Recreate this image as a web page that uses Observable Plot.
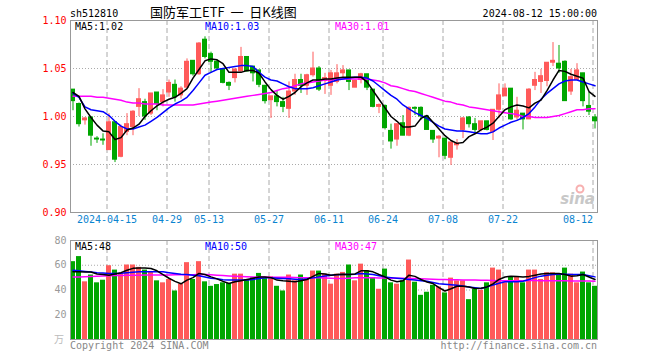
<!DOCTYPE html>
<html><head><meta charset="utf-8">
<script src="https://cdn.jsdelivr.net/npm/d3@7"></script>
<script src="https://cdn.jsdelivr.net/npm/@observablehq/plot@0.6"></script>
<style>
body{margin:0;background:#fff;}
#wrap{position:relative;width:660px;height:360px;overflow:hidden;}
#wrap svg{position:absolute;left:0;}
</style></head><body><div id="wrap"></div>
<script>
// ---- data ----
const open  = [1.028,1.013,0.996,0.999,0.977,0.976,0.965,0.994,0.958,0.984,0.989,1.010,1.015,1.003,1.025,1.015,1.025,1.033,1.022,1.030,1.058,1.044,1.080,1.065,1.057,1.049,1.035,1.040,1.047,1.062,1.052,1.048,1.032,1.017,1.021,1.015,1.008,1.026,1.038,1.032,1.043,1.050,1.037,1.032,1.036,1.045,1.048,1.030,1.038,1.044,1.028,1.010,1.011,0.985,0.976,0.993,0.980,1.009,1.009,1.000,0.985,0.977,0.977,0.957,0.970,0.986,0.999,0.992,0.986,0.995,0.984,1.007,1.021,1.029,0.999,1.003,0.997,1.032,1.036,1.037,1.056,1.055,1.057,1.026,1.038,1.045,1.011,0.999];
const high  = [1.028,1.014,0.999,0.999,0.979,0.982,1.003,0.994,0.991,1.003,1.006,1.029,1.018,1.024,1.025,1.028,1.038,1.038,1.031,1.060,1.058,1.077,1.083,1.067,1.059,1.050,1.036,1.049,1.072,1.062,1.052,1.048,1.032,1.021,1.027,1.020,1.036,1.044,1.044,1.044,1.067,1.052,1.045,1.048,1.054,1.053,1.048,1.038,1.045,1.044,1.028,1.013,1.012,0.992,0.992,1.001,1.010,1.010,1.010,1.000,0.985,0.980,0.977,0.973,0.976,0.999,1.000,0.998,0.995,0.995,1.007,1.034,1.034,1.029,1.020,1.003,1.029,1.046,1.049,1.056,1.077,1.074,1.058,1.049,1.055,1.045,1.025,1.002];
const low   = [1.006,0.989,0.991,0.969,0.972,0.970,0.965,0.952,0.957,0.980,0.980,1.000,0.996,1.001,1.006,1.010,1.020,1.015,1.018,1.029,1.042,1.043,1.060,1.045,1.048,1.034,1.027,1.035,1.046,1.046,1.036,1.030,1.013,0.998,1.010,1.004,0.998,1.022,1.024,1.022,1.041,1.026,1.023,1.022,1.034,1.039,1.027,1.030,1.034,1.027,1.009,1.003,0.986,0.966,0.969,0.980,0.979,1.001,0.996,0.986,0.972,0.957,0.955,0.949,0.965,0.977,0.988,0.982,0.984,0.985,0.975,0.998,1.021,0.996,0.996,0.986,0.997,1.027,1.024,1.031,1.052,1.045,1.016,1.022,1.038,1.010,1.001,0.987];
const close = [1.016,0.992,0.998,0.980,0.976,0.975,0.994,0.955,0.989,0.992,1.005,1.018,1.000,1.024,1.013,1.022,1.035,1.020,1.029,1.057,1.044,1.076,1.062,1.057,1.050,1.035,1.032,1.049,1.062,1.047,1.045,1.033,1.016,1.021,1.015,1.010,1.026,1.038,1.032,1.043,1.050,1.028,1.040,1.045,1.045,1.048,1.036,1.037,1.044,1.030,1.010,1.012,0.988,0.974,0.992,0.980,1.009,1.008,1.000,0.986,0.976,0.979,0.959,0.973,0.972,0.998,0.992,0.986,0.995,0.986,1.007,1.022,1.029,0.997,1.006,0.997,1.028,1.038,1.042,1.056,1.058,1.050,1.016,1.041,1.048,1.016,1.005,0.995];
const ma5   = [1.025,1.021,1.008,0.999,0.991,0.985,0.984,0.976,0.978,0.986,0.988,0.992,1.000,1.006,1.011,1.015,1.018,1.020,1.024,1.029,1.040,1.049,1.058,1.060,1.059,1.055,1.046,1.046,1.046,1.048,1.048,1.045,1.036,1.028,1.022,1.018,1.021,1.025,1.031,1.035,1.038,1.038,1.039,1.039,1.040,1.041,1.041,1.041,1.041,1.036,1.027,1.018,1.009,1.000,0.995,0.989,0.989,0.990,0.998,1.001,0.994,0.987,0.980,0.975,0.972,0.973,0.979,0.982,0.986,0.989,0.993,1.000,1.007,1.010,1.012,1.011,1.009,1.014,1.017,1.027,1.038,1.048,1.047,1.044,1.042,1.040,1.026,1.021];
const ma10  = [1.024,1.020,1.010,1.007,1.006,1.005,1.001,0.995,0.990,0.987,0.987,0.989,0.991,0.995,0.999,1.004,1.009,1.013,1.016,1.020,1.027,1.035,1.043,1.046,1.049,1.050,1.051,1.052,1.053,1.053,1.052,1.046,1.041,1.038,1.037,1.034,1.031,1.029,1.029,1.029,1.030,1.032,1.034,1.036,1.038,1.039,1.040,1.041,1.041,1.040,1.037,1.032,1.027,1.022,1.018,1.012,1.008,1.004,1.001,0.998,0.994,0.990,0.987,0.986,0.985,0.985,0.984,0.983,0.982,0.982,0.984,0.988,0.991,0.994,0.996,0.999,1.003,1.010,1.018,1.024,1.029,1.034,1.037,1.038,1.038,1.036,1.034,1.032];
const ma30  = [1.021,1.021,1.021,1.021,1.020,1.020,1.019,1.018,1.017,1.015,1.014,1.014,1.013,1.013,1.013,1.012,1.012,1.012,1.012,1.012,1.012,1.013,1.014,1.015,1.016,1.017,1.018,1.019,1.020,1.021,1.022,1.023,1.024,1.025,1.027,1.029,1.030,1.032,1.034,1.035,1.036,1.037,1.038,1.038,1.039,1.039,1.039,1.039,1.039,1.039,1.038,1.037,1.035,1.032,1.031,1.029,1.027,1.026,1.024,1.022,1.020,1.018,1.016,1.015,1.013,1.012,1.010,1.009,1.008,1.007,1.006,1.005,1.004,1.003,1.002,1.000,1.000,0.999,0.999,0.999,1.000,1.001,1.003,1.005,1.007,1.007,1.008,1.008];
const volume = [62.9,67.0,46.6,52.1,45.8,47.9,59.6,56.1,53.4,60.2,60.2,58.3,56.1,54.7,47.4,45.8,48.5,39.2,44.7,62.1,48.5,62.9,46.6,43.0,44.4,45.8,45.2,52.8,52.8,48.5,50.1,53.4,49.2,50.6,43.0,39.2,52.1,47.4,52.1,48.5,55.3,55.3,52.8,44.7,52.8,54.2,60.2,47.4,60.9,55.5,50.1,40.6,56.9,45.8,44.7,47.4,64.2,46.3,35.7,38.2,43.8,42.5,37.6,49.6,47.4,47.4,32.2,40.6,39.8,45.8,57.7,56.1,45.8,50.1,50.1,45.8,56.1,56.1,48.5,53.9,53.9,52.8,57.7,52.8,45.8,54.5,45.8,43.0];
const vma5  = [54.7,54.7,54.5,54.5,53.0,52.5,52.0,53.0,54.0,56.0,57.5,57.8,57.8,57.4,55.5,52.5,49.5,47.0,45.0,48.0,50.0,53.4,52.5,50.6,49.0,47.0,45.2,46.6,47.5,48.5,49.5,50.5,50.5,50.0,48.0,47.4,47.0,46.6,47.5,48.5,51.0,53.4,53.0,52.0,52.5,52.8,52.5,53.0,55.5,55.5,54.7,52.5,50.6,48.0,46.6,47.4,52.0,51.0,48.5,46.5,45.2,42.0,39.2,41.0,43.0,43.0,42.5,41.2,41.5,42.5,45.0,48.5,50.5,51.2,51.0,50.6,51.0,52.0,53.0,53.4,53.4,53.4,52.5,51.2,51.5,52.5,50.5,48.5];
const vma10 = [56.0,55.5,55.0,54.5,54.0,53.7,53.4,53.4,53.6,54.0,54.3,54.7,54.7,54.7,54.7,54.7,54.0,53.4,52.8,52.5,52.0,51.5,50.5,49.5,49.0,48.3,48.0,48.0,48.0,48.0,48.5,49.3,49.8,49.8,49.5,49.3,49.0,48.7,48.5,49.0,49.8,50.6,51.3,52.0,52.3,52.5,52.5,52.8,53.4,53.0,52.5,51.5,50.6,50.0,49.5,49.0,48.5,48.0,47.5,47.0,46.0,45.0,44.7,44.2,43.8,43.3,42.5,41.8,41.2,42.5,44.0,45.5,46.6,46.6,46.6,47.0,48.5,50.0,51.2,52.0,52.5,52.8,52.8,52.5,52.5,52.5,51.5,50.6];
const vma30 = [50.6,50.6,50.8,51.0,51.1,51.3,51.5,51.7,51.8,52.0,52.0,52.0,52.1,52.1,52.2,52.2,52.2,52.3,52.3,52.3,52.3,52.5,52.5,52.3,52.0,51.7,51.4,51.2,51.0,50.8,50.6,50.5,50.5,50.4,50.4,50.3,50.3,50.2,50.0,50.0,50.0,49.8,49.7,49.5,49.3,49.3,49.5,49.8,49.8,49.8,49.8,49.7,49.6,49.5,49.5,49.4,49.3,49.2,49.0,48.9,48.7,48.5,48.4,48.3,48.2,48.1,48.0,48.0,47.9,47.8,47.7,47.5,47.4,47.4,47.4,47.5,47.6,47.6,47.5,47.4,47.4,47.4,47.4,47.3,47.3,47.2,47.2,47.1];
const tickIdx    = [6,16,23,33,43,52,62,72,87];
const tickLabels = ["2024-04-15","04-29","05-13","05-27","06-11","06-24","07-08","07-22","08-12"];
const priceTicks = [0.90,0.95,1.00,1.05,1.10];
const volTicks   = [20,40,60,80];
const legendPrice = ["MA5:1.02","MA10:1.03","MA30:1.01"];
const legendVol   = ["MA5:48","MA10:50","MA30:47"];

// ---- styling ----
const RED = "#ff5a5a", GREEN = "#00a600";
const MONO = "'DejaVu Sans Mono', monospace";
const CJK = "'Noto Sans CJK SC', sans-serif";
const N = close.length;
const idx = d3.range(N);
const col = i => close[i] > open[i] ? RED : GREEN;
const xDom = [-5/12, N - 1 + 5/12];
const wrap = document.getElementById("wrap");
const common = {
  width: 660, marginLeft: 70, marginRight: 63,
  x: {domain: xDom, axis: null},
  color: {type: "identity"},
  style: {fontFamily: MONO, fontSize: "10px", background: "transparent", overflow: "visible"}
};
const vgrid = Plot.ruleX(tickIdx, {x: d => d - 1/3, stroke: "#aaa", strokeDasharray: "5,3"});

const price = Plot.plot({
  ...common, height: 232, marginTop: 20, marginBottom: 20,
  y: {domain: [0.9, 1.1], axis: null},
  marks: [
    Plot.ruleY([0.95, 1.0, 1.05], {stroke: "#aaa", strokeDasharray: "1,2"}),
    vgrid,
    Plot.axisY({ticks: priceTicks, tickFormat: d3.format(".2f"), tickSize: 0, tickPadding: 4, fill: "red", fontSize: 10}),
    Plot.text(tickIdx.slice(0, -1), {x: d => d - 1/3, text: (d, k) => tickLabels[k], frameAnchor: "bottom", dy: 10, fill: "#0a84d0", fontSize: 10}),
    Plot.text(tickIdx.slice(-1), {x: d => d - 1/3, text: () => tickLabels[tickLabels.length - 1], frameAnchor: "bottom", dy: 10, textAnchor: "end", fill: "#0a84d0", fontSize: 10}),
    Plot.ruleX(idx, {x: i => i, y1: i => low[i], y2: i => high[i], stroke: col}),
    Plot.rect(idx, {x1: i => i - 5/12, x2: i => i + 5/12, y1: i => open[i], y2: i => close[i], fill: col, insetTop: -0.5, insetBottom: -0.5}),
    Plot.line(idx, {x: i => i, y: i => ma30[i], stroke: "#ff00ff"}),
    Plot.line(idx, {x: i => i, y: i => ma10[i], stroke: "#0000ff"}),
    Plot.line(idx, {x: i => i, y: i => ma5[i], stroke: "#000"}),
    Plot.frame({stroke: "#999"})
  ]
});
price.style.top = "0px";
wrap.appendChild(price);

const vol = Plot.plot({
  ...common, height: 128, marginTop: 8, marginBottom: 21,
  y: {domain: [0, 80], axis: null},
  marks: [
    Plot.ruleY([20, 40, 60], {stroke: "#aaa", strokeDasharray: "1,2"}),
    vgrid,
    Plot.axisY({ticks: volTicks, tickSize: 0, tickPadding: 4, fill: "#999", fontSize: 10}),
    Plot.rectY(idx, {x1: i => i - 5/12, x2: i => i + 5/12, y: i => volume[i], fill: col}),
    Plot.line(idx, {x: i => i, y: i => vma30[i], stroke: "#ff00ff"}),
    Plot.line(idx, {x: i => i, y: i => vma10[i], stroke: "#0000ff"}),
    Plot.line(idx, {x: i => i, y: i => vma5[i], stroke: "#000"}),
    Plot.frame({stroke: "#999"})
  ]
});
vol.style.top = "232px";
wrap.appendChild(vol);

// ---- text overlay ----
const ov = d3.select(wrap).append("svg").attr("width", 660).attr("height", 360).style("top", "0px")
  .style("font-family", MONO).style("font-size", "10px");
const t = (x, y, s, fill, anchor) => ov.append("text").attr("x", x).attr("y", y).attr("fill", fill)
  .attr("text-anchor", anchor || "start").style("white-space", "pre").text(s);
t(70, 17, "sh512810", "#000");
t(150, 16.5, "国防军工ETF  一  日K线图", "#000").style("font-family", CJK).style("font-size", "13px");
t(597, 17, "2024-08-12 15:00:00", "#000", "end");
const legX = [75, 205, 335], legC = ["#000", "#0000ff", "#ff00ff"];
legendPrice.forEach((s, k) => t(legX[k], 29.5, s, legC[k]));
legendVol.forEach((s, k) => t(legX[k], 250, s, legC[k]));
t(70, 349, "Copyright 2024 SINA.COM", "#888");
t(597, 349, "http://finance.sina.com.cn", "#888", "end");
t(64, 343, "万", "#bbb", "end").style("font-family", CJK);
t(595, 204, "sina", "#c8c8c8", "end").style("font-family", "'DejaVu Sans', sans-serif").style("font-size", "15px").style("font-style", "italic").style("font-weight", "bold");
ov.append("circle").attr("cx", 580).attr("cy", 189).attr("r", 3.5).attr("fill", "none").attr("stroke", "#f7b0b0").attr("stroke-width", 2);
</script></body></html>
